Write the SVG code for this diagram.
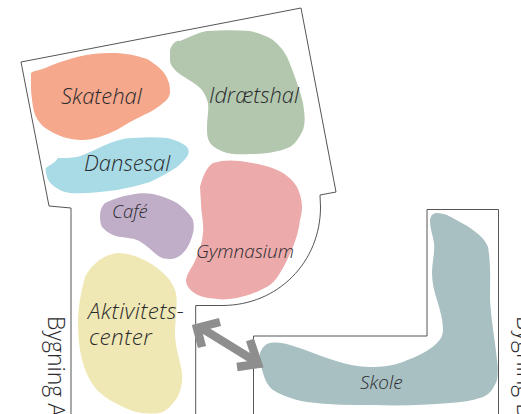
<svg xmlns="http://www.w3.org/2000/svg" width="521" height="414" viewBox="0 0 521 414">
<style>
.w{fill:none;stroke:#555;stroke-width:1}
.l{font-family:"Open Sans",Lato,sans-serif;font-style:italic;font-weight:300;fill:#2b2b2e}
.b{font-family:"Open Sans",Lato,sans-serif;font-size:23px;font-weight:300;fill:#2b2b2e}
.a{fill:none;stroke:#8e8e8e;stroke-width:8.500}
</style>
<rect width="521" height="414" fill="#fff"/>
<g id="walls">
<path class="w" d="M71 414V208L49 206L21 62L301 8L336 192L320 195L320.500 207C320.500 262 278 305.500 222 305.500H195.700V414"/>
<path class="w" d="M253.500 414V336H427V209.500H498.500V414"/>
</g>
<g id="skatehal"><path fill="#f5a88c" d="M31 73C35 70 40 71 50 66C62 61 70 59 77 57C92 53 105 53 117 53C130 54 138 56 147 59C157 65 165 72 167 78C170 84 170 88 170 93C169 98 167 100 163 103C155 110 148 113 140 117C130 121 120 129 110 133C100 137 92 140 83 140C75 140 70 139 63 137C53 133 45 129 40 123C36 118 34 113 33 107C32 100 31 93 31 87Z"/><text class="l" x="61" y="104" font-size="22">Skatehal</text></g>
<g id="idraetshal"><path fill="#b3c7ae" d="M170 50C172 44 176 40 180 41C190 37 197 33 207 31C222 30 236 30 250 31C258 33 267 36 273 40C280 46 284 51 287 57C291 66 294 74 297 83C300 92 303 100 304 110C305 118 305 124 303 130C299 138 296 143 290 147C278 152 266 154 253 154C243 154 235 155 227 153C219 150 214 148 210 143C207 138 207 133 207 127C207 118 209 111 208 103C206 96 204 92 200 88C193 81 184 78 177 72C172 67 170 64 170 60Z"/><text class="l" x="209" y="103" font-size="21.800">Idrætshal</text></g>
<g id="dansesal"><path fill="#a8dbe6" d="M46 168C49 165 54 164 58 158C64 158 70 158 77 157C88 154 99 147 110 143C118 140 125 138 133 138C145 137 156 137 167 138C176 140 183 143 187 147C189 150 189 152 188 155C185 160 181 163 177 167C168 173 160 177 150 182C140 185 128 188 117 190C100 192 85 194 70 193C63 192 59 190 55 187C51 184 48 181 47 177C46 173 45 171 46 168Z"/><text class="l" x="84" y="171" font-size="22">Dansesal</text></g>
<g id="cafe"><path fill="#c0aec8" d="M100 215C100 210 102 206 105 203C113 199 122 196 130 195C138 193 146 193 153 194C162 196 170 199 177 203C184 208 190 214 193 220C194 225 194 229 193 233C191 241 188 248 183 253C179 257 175 259 170 259C165 259 161 258 157 255C151 250 144 243 137 240C129 237 121 238 113 235C108 233 105 230 102 227C100 223 100 219 100 215Z"/><text class="l" x="112" y="218" font-size="18.500">Café</text></g>
<g id="gymnasium"><path fill="#ecaaab" d="M200 187C203 175 207 167 213 163C222 160 231 160 240 161C253 163 266 165 277 170C286 174 293 180 297 187C300 193 302 200 302 207C302 212 301 216 300 220C299 230 296 239 293 247C289 256 285 265 280 273C277 278 274 282 270 285C260 291 248 296 237 298C230 299 223 300 217 299C208 298 199 297 193 292C188 288 186 284 186 280C187 274 190 270 193 265C198 255 202 245 203 233C204 223 201 213 201 203Z"/><text class="l" x="196" y="258" font-size="19">Gymnasium</text></g>
<g id="aktivitetscenter"><path fill="#efe8b5" d="M78 323C78 307 81 292 85 277C88 271 92 266 97 262C103 257 110 254 117 253C125 253 133 255 140 258C149 262 157 267 163 273C170 279 174 286 176 293C178 306 175 320 175 333C175 347 180 360 182 373C183 382 181 391 177 398C172 405 167 411 160 413C150 414 140 414 130 410C118 405 106 399 97 390C90 382 85 371 82 360C79 348 78 335 78 323Z"/><text class="l" font-size="22.500" letter-spacing="0.400"><tspan x="88" y="319">Aktivitets-</tspan><tspan x="89" y="345">center</tspan></text></g>
<g id="skole"><path fill="#a9c0c3" d="M260 353C262 348 265 344 270 343C277 342 284 343 290 345C305 349 319 356 333 360C345 364 358 367 370 367C382 367 392 366 403 362C415 357 428 352 437 343C441 339 443 335 443 330C443 320 440 310 437 300C434 291 432 282 432 273C432 263 435 253 434 243C433 236 430 228 430 220C431 215 433 213 437 213C441 213 444 214 447 215C456 220 465 224 473 230C480 235 485 240 488 247C491 264 490 282 490 300C491 320 495 340 497 360C498 367 498 373 497 380C494 388 490 394 483 397C472 401 461 402 450 403C425 405 399 406 373 405C351 405 329 405 307 402C295 400 283 396 273 390C268 386 265 380 263 373C261 366 259 360 260 353Z"/><text class="l" x="360" y="389" font-size="19">Skole</text></g>
<g id="connectors">
<path class="a" d="M198 326L258 363M220 322L197 328L202 347M250 340L258 364L237 367"/>
</g>
<g id="labels">
<text class="b" transform="translate(48 316) rotate(90)">Bygning A</text>
<text class="b" transform="translate(517 316) rotate(90)">Bygning B</text>
</g>
</svg>
